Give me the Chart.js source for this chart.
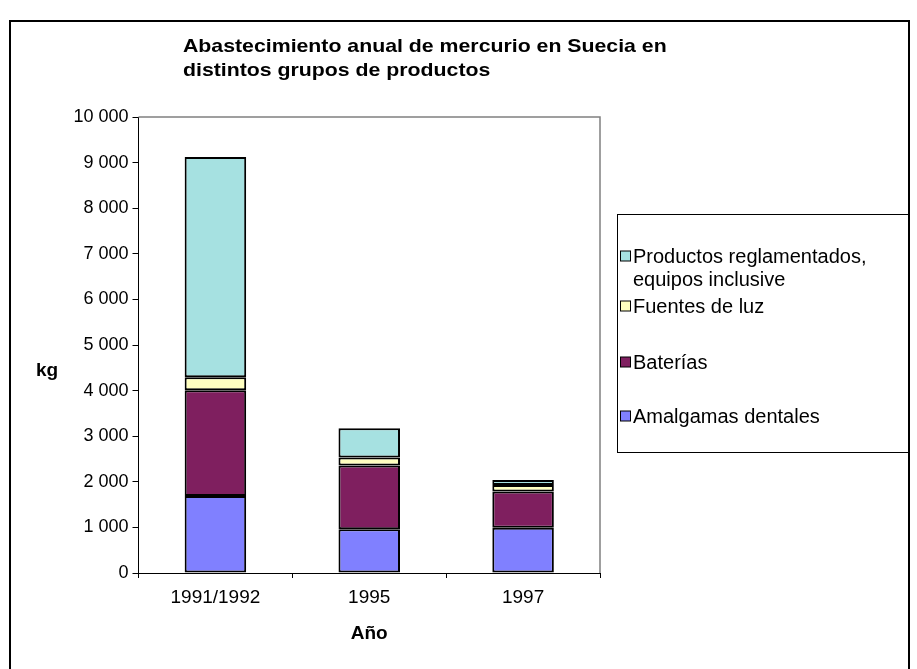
<!DOCTYPE html>
<html lang="es">
<head>
    <meta charset="UTF-8">
    <title>Abastecimiento anual de mercurio en Suecia</title>
    <script src="https://cdn.jsdelivr.net/npm/chart.js"></script>
    <style>
        html, body {
            margin: 0;
            padding: 0;
            background: #ffffff;
        }
        canvas {
            display: block;
        }
    </style>
</head>
<body>
    <canvas id="myChart" width="917" height="669"></canvas>

    <script>
        // datos (kg de mercurio)
        var years = ['1991/1992', '1995', '1997'];
        var amalgamas = [1690, 960, 990];
        var baterias = [2320, 1400, 800];
        var fuentesLuz = [285, 175, 140];
        var productos = [4830, 640, 110];

        var seriesNames = [
            ['Amalgamas dentales'],
            ['Baterías'],
            ['Fuentes de luz'],
            ['Productos reglamentados,', 'equipos inclusive']
        ];
        var seriesColors = ['#8080ff', '#7f1f5f', '#ffffc0', '#a6e1e1'];
        var titleLines = ['Abastecimiento anual de mercurio en Suecia en', 'distintos grupos de productos'];

        var FONT = 'Arial, "Liberation Sans", sans-serif';

        // texto algo ensanchado horizontalmente
        function wideText(ctx, text, x, y, sx) {
            ctx.save();
            ctx.translate(x, y);
            ctx.scale(sx, 1);
            ctx.fillText(text, 0, 0);
            ctx.restore();
        }

        // marco, titulo, textos de ejes y leyenda
        var decoPlugin = {
            id: 'deco',
            afterDraw: function(chart) {
                var ctx = chart.ctx;
                var a = chart.chartArea;
                ctx.save();

                // borde gris del area de trazado (arriba y derecha)
                ctx.strokeStyle = '#808080';
                ctx.lineWidth = 1.5;
                ctx.beginPath();
                ctx.moveTo(a.left, a.top);
                ctx.lineTo(a.right, a.top);
                ctx.lineTo(a.right, a.bottom);
                ctx.stroke();

                // marco exterior
                ctx.strokeStyle = '#000';
                ctx.lineWidth = 2;
                ctx.strokeRect(10, 21, 899, 700);

                // titulo
                ctx.fillStyle = '#000';
                ctx.font = 'bold 19px ' + FONT;
                ctx.textAlign = 'left';
                ctx.textBaseline = 'alphabetic';
                wideText(ctx, titleLines[0], 183, 52, 1.12);
                wideText(ctx, titleLines[1], 183, 76, 1.12);

                // titulos de ejes
                ctx.textAlign = 'center';
                ctx.textBaseline = 'middle';
                ctx.fillText('kg', 47, 371);
                ctx.fillText('Año', (a.left + a.right) / 2, 634);

                // leyenda
                ctx.strokeStyle = '#000';
                ctx.lineWidth = 1;
                ctx.strokeRect(617.5, 214.5, 292, 238);
                var rows = [423, 369, 313, 263];
                ctx.font = '20px ' + FONT;
                ctx.textAlign = 'left';
                ctx.textBaseline = 'alphabetic';
                chart.data.datasets.forEach(function(ds, i) {
                    var y = rows[i];
                    ctx.fillStyle = ds.backgroundColor;
                    ctx.fillRect(620.5, y - 12, 10, 10);
                    ctx.strokeStyle = '#000';
                    ctx.strokeRect(620.5, y - 12, 10, 10);
                    ctx.fillStyle = '#000';
                    seriesNames[i].forEach(function(line, j) {
                        ctx.fillText(line, 633, y + j * 23);
                    });
                });
                ctx.restore();
            }
        };

        var datasets = [amalgamas, baterias, fuentesLuz, productos].map(function(values, i) {
            return {
                label: seriesNames[i].join(' '),
                data: values,
                backgroundColor: seriesColors[i],
                borderColor: '#000',
                borderWidth: 2,
                borderSkipped: false,
                categoryPercentage: 1,
                barPercentage: 0.4
            };
        });

        var ctx = document.getElementById('myChart').getContext('2d');
        var myChart = new Chart(ctx, {
            type: 'bar',
            data: {
                labels: years,
                datasets: datasets
            },
            options: {
                responsive: false,
                animation: false,
                layout: {
                    padding: { left: 0, top: 117, right: 317, bottom: 66 }
                },
                plugins: {
                    legend: { display: false },
                    title: { display: false },
                    tooltip: { enabled: false }
                },
                scales: {
                    x: {
                        stacked: true,
                        offset: true,
                        afterFit: function(s) { s.height = 30; },
                        grid: {
                            offset: true,
                            drawOnChartArea: false,
                            tickLength: 5,
                            color: '#000'
                        },
                        border: { color: '#000', width: 1 },
                        ticks: {
                            color: '#000',
                            padding: 8,
                            font: { family: FONT, size: 19 }
                        }
                    },
                    y: {
                        stacked: true,
                        min: 0,
                        max: 10000,
                        afterFit: function(s) { s.width = 138.5; },
                        grid: {
                            drawOnChartArea: false,
                            tickLength: 6,
                            color: '#000'
                        },
                        border: { color: '#000', width: 1 },
                        ticks: {
                            stepSize: 1000,
                            color: '#000',
                            padding: 4,
                            font: { family: FONT, size: 18 },
                            callback: function(v) {
                                return String(v).replace(/\B(?=(\d{3})+(?!\d))/g, ' ');
                            }
                        }
                    }
                }
            },
            plugins: [decoPlugin]
        });
    </script>
</body>
</html>
